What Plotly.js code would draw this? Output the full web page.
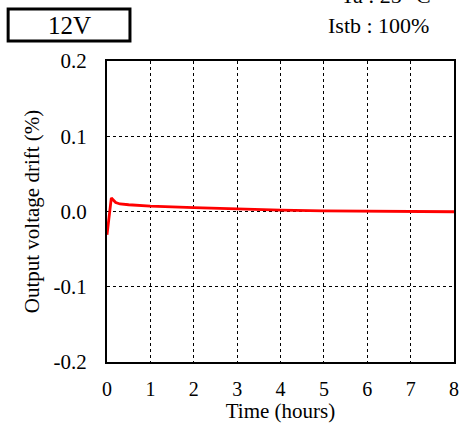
<!DOCTYPE html>
<html>
<head>
<meta charset="utf-8">
<script src="https://cdn.plot.ly/plotly-3.0.1.min.js"></script>
<style>html,body{margin:0;padding:0;background:#fff;}#chart{width:463px;height:423px;}</style>
</head>
<body>
<div id="chart"></div>
<script>
// Data
const timeHours = [0, 0.1, 0.2, 0.3, 0.5, 1, 2, 3, 4, 5, 6, 7, 8];
const driftPct  = [-0.031, 0.018, 0.012, 0.010, 0.009, 0.0072, 0.0052, 0.0032, 0.0017, 0.0009, 0.0004, 0.0001, -0.0003];
const xTickVals = [0, 1, 2, 3, 4, 5, 6, 7, 8];
const xTickText = ["0", "1", "2", "3", "4", "5", "6", "7", "8"];
const yTickVals = [-0.2, -0.1, 0, 0.1, 0.2];
const yTickText = ["-0.2", "-0.1", "0.0", "0.1", "0.2"];
const labelVoltage = "12V";
const labelTemp = "Ta : 25 °C";
const labelLoad = "Istb : 100%";

const W = 463, H = 423;
const L = 106.5, R = 9, T = 61, B = 60.5;
const pw = W - L - R, ph = H - T - B;
const px = x => (x - L) / pw;
const py = y => (H - B - y) / ph;

const font = "'Liberation Serif', 'Times New Roman', serif";

const trace = {
  x: timeHours, y: driftPct, type: "scatter", mode: "lines",
  line: {color: "#ff0000", width: 2.8}, hoverinfo: "skip"
};

const layout = {
  width: W, height: H,
  margin: {l: L, r: R, t: T, b: B, pad: 0},
  paper_bgcolor: "#fff", plot_bgcolor: "#fff",
  showlegend: false,
  font: {family: font, size: 21, color: "#000"},
  xaxis: {
    range: [0, 8], tickvals: xTickVals, ticktext: xTickText,
    showgrid: true, gridcolor: "#000", griddash: "dot", gridwidth: 1,
    zeroline: false, showline: true, mirror: true, linecolor: "#000", linewidth: 2,
    ticks: "", ticklabelstandoff: 8,
    tickfont: {family: font, size: 20},
    title: {text: "Time (hours)", font: {family: font, size: 21}, standoff: 3}
  },
  yaxis: {
    range: [-0.2, 0.2], tickvals: yTickVals, ticktext: yTickText,
    showgrid: true, gridcolor: "#000", griddash: "dot", gridwidth: 1,
    zeroline: false, showline: true, mirror: true, linecolor: "#000", linewidth: 2,
    ticks: "", ticklabelstandoff: 14,
    tickfont: {family: font, size: 21},
    title: {text: "Output voltage drift (%)", font: {family: font, size: 21}, standoff: 8}
  },
  shapes: [{
    type: "rect", xref: "paper", yref: "paper",
    x0: px(7.5), x1: px(129.5), y0: py(41), y1: py(9),
    line: {color: "#000", width: 3}, fillcolor: "rgba(0,0,0,0)"
  }],
  annotations: [
    {xref: "paper", yref: "paper", x: px(68.5), y: py(25), xanchor: "center", yanchor: "middle",
     text: labelVoltage, showarrow: false, font: {family: font, size: 25}},
    {xref: "paper", yref: "paper", x: px(326), y: py(25), xanchor: "left", yanchor: "middle",
     text: labelLoad, showarrow: false, font: {family: font, size: 22}},
    {xref: "paper", yref: "paper", x: px(339), y: py(-5), xanchor: "left", yanchor: "middle",
     text: labelTemp, showarrow: false, font: {family: font, size: 22}}
  ]
};

Plotly.newPlot("chart", [trace], layout, {staticPlot: true, displayModeBar: false});
</script>
</body>
</html>
